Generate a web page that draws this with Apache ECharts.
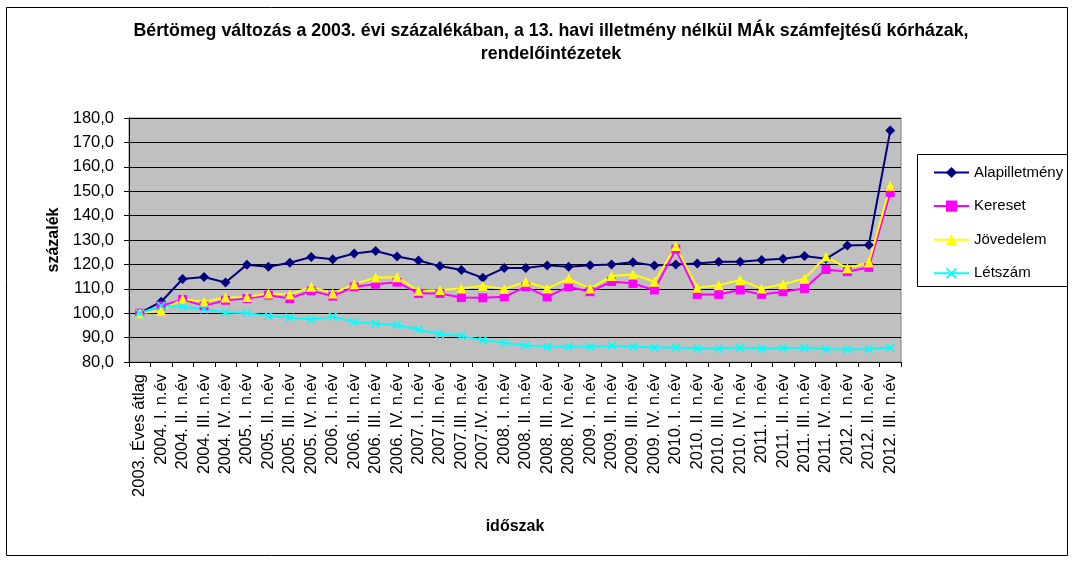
<!DOCTYPE html>
<html>
<head>
<meta charset="utf-8">
<script src="https://cdn.jsdelivr.net/npm/echarts@6/dist/echarts.min.js"></script>
<style>
html,body{margin:0;padding:0;background:#fff;}
#chart{width:1074px;height:563px;}
</style>
</head>
<body>
<div id="chart"></div>
<script>
const categories = ['2003. Éves átlag','2004. I. n.év','2004. II. n.év','2004. III. n.év','2004. IV. n.év',
'2005. I. n.év','2005. II. n.év','2005. III. n.év','2005. IV. n.év',
'2006. I. n.év','2006. II. n.év','2006. III. n.év','2006. IV. n.év',
'2007. I. n.év','2007.II. n.év','2007.III. n.év','2007.IV. n.év',
'2008. I. n.év','2008. II. n.év','2008. III. n.év','2008. IV. n.év',
'2009. I. n.év','2009. II. n.év','2009. III. n.év','2009. IV. n.év',
'2010. I. n.év','2010. II. n.év','2010. III. n.év','2010. IV. n.év',
'2011. I. n.év','2011. II. n.év','2011. III. n.év','2011. IV. n.év',
'2012. I. n.év','2012. II. n.év','2012. III. n.év'];

const alapilletmeny = [100.0,104.7,114.0,114.8,112.6,119.9,119.0,120.7,123.0,122.1,124.5,125.5,123.2,121.6,119.3,117.7,114.5,118.5,118.5,119.6,119.0,119.7,120.0,120.9,119.5,120.0,120.4,121.1,121.1,121.8,122.3,123.4,122.3,127.7,127.9,174.9];
const kereset = [100.0,103.0,105.6,103.0,105.3,106.0,107.4,106.0,109.2,107.0,110.8,111.9,112.7,108.1,108.1,106.4,106.3,106.7,110.8,106.7,110.8,108.8,113.0,112.2,109.5,126.2,107.7,107.7,109.5,107.7,108.8,110.1,117.9,117.0,118.8,149.5];
const jovedelem = [100.0,101.0,105.8,104.7,106.4,106.6,108.1,107.7,110.8,108.1,111.9,114.6,114.7,109.2,109.5,110.1,111.2,109.9,112.9,110.1,114.2,110.1,115.2,115.9,112.9,127.5,110.4,111.5,113.6,110.1,111.9,114.2,123.2,118.4,120.8,152.2];
const letszam = [100.0,103.0,102.6,101.6,100.3,100.1,98.9,98.2,97.4,98.6,96.4,95.7,95.2,93.3,91.4,90.7,88.9,87.9,86.8,86.2,86.2,86.2,86.7,86.3,85.9,85.9,85.5,85.5,85.9,85.5,85.6,85.8,85.3,85.1,85.3,85.9];

const seriesNames = ['Alapilletmény','Kereset','Jövedelem','Létszám'];
const titleText = 'Bértömeg változás a 2003. évi százalékában, a 13. havi illetmény nélkül MÁk számfejtésű kórházak,\nrendelőintézetek';
const yAxisName = 'százalék';
const xAxisName = 'időszak';

const FONT = 'Arial, "Liberation Sans", sans-serif';
const crossPath = 'path://M0,1.2L1.2,0L5,3.8L8.8,0L10,1.2L6.2,5L10,8.8L8.8,10L5,6.2L1.2,10L0,8.8L3.8,5Z';

const chart = echarts.init(document.getElementById('chart'), null, {renderer:'canvas'});
function mk(name, data, color, symbol, size){
  return {
    name: name, type: 'line', data: data, symbol: symbol, symbolSize: size,
    showAllSymbol: true,
    lineStyle: {color: color, width: 2},
    itemStyle: {color: color},
    emphasis: {disabled: true}
  };
}
chart.setOption({
  animation: false,
  backgroundColor: '#ffffff',
  title: {
    text: titleText,
    left: 546, top: 15, textAlign: 'center',
    textStyle: {fontFamily: FONT, fontSize: 17.8, fontWeight: 'bold', color: '#000', lineHeight: 23}
  },
  graphic: [
    {type: 'rect', shape: {x: 6.5, y: 7.5, width: 1061, height: 548}, style: {fill: 'none', stroke: '#000', lineWidth: 1}, silent: true},
    {type: 'rect', shape: {x: 917.5, y: 154.5, width: 150, height: 132}, style: {fill: '#fff', stroke: '#000', lineWidth: 1}, silent: true, z: 1}
  ],
  legend: {
    orient: 'vertical', left: 933, top: 165,
    itemWidth: 35, itemHeight: 14, itemGap: 18.6, padding: 0,
    textStyle: {fontFamily: FONT, fontSize: 15, color: '#000'},
    data: seriesNames, z: 5
  },
  grid: {
    left: 129, top: 118, right: 173, bottom: 201,
    show: true, backgroundColor: '#C0C0C0', borderColor: '#808080', borderWidth: 1
  },
  xAxis: {
    type: 'category', data: categories, boundaryGap: true,
    name: xAxisName, nameLocation: 'middle', nameGap: 157,
    nameTextStyle: {fontFamily: FONT, fontSize: 16, fontWeight: 'bold', color: '#000'},
    axisLine: {lineStyle: {color: '#000', width: 1}},
    axisTick: {show: true, length: 5, alignWithLabel: false, interval: 0, lineStyle: {color: '#000'}},
    axisLabel: {rotate: 90, interval: 0, margin: 12, fontFamily: FONT, fontSize: 16.5, color: '#000'},
    splitLine: {show: false}
  },
  yAxis: {
    type: 'value', min: 80, max: 180, interval: 10,
    name: yAxisName, nameLocation: 'middle', nameGap: 67, nameRotate: 90,
    nameTextStyle: {fontFamily: FONT, fontSize: 16, fontWeight: 'bold', color: '#000'},
    axisLine: {show: true, lineStyle: {color: '#000', width: 1}},
    axisTick: {show: true, length: 5, lineStyle: {color: '#000'}},
    axisLabel: {margin: 15, fontFamily: FONT, fontSize: 16.5, color: '#000',
      formatter: v => v.toFixed(1).replace('.', ',')},
    splitLine: {show: true, lineStyle: {color: '#000', width: 1}}
  },
  series: [
    mk(seriesNames[0], alapilletmeny, '#000080', 'diamond', 10),
    mk(seriesNames[1], kereset, '#FF00FF', 'rect', 9),
    mk(seriesNames[2], jovedelem, '#FFFF00', 'triangle', 10),
    mk(seriesNames[3], letszam, '#00FFFF', crossPath, 9)
  ]
});
</script>
</body>
</html>
